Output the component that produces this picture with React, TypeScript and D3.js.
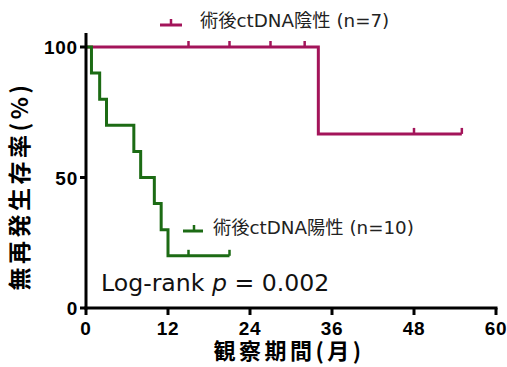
import React from "react";
import * as d3 from "d3";

const negTimes = [0, 34, 55];
const negSurv = [100, 66.7, 66.7];
const negCensor = [15, 21, 27, 32, 48, 55];

const posTimes = [0, 0.8, 2, 3, 7, 8, 10, 11, 12, 21];
const posSurv = [100, 90, 80, 70, 60, 50, 40, 30, 20, 20];
const posCensor = [15, 21];

const xTicks = [0, 12, 24, 36, 48, 60];
const yTicks = [0, 50, 100];

const negLabel = "術後ctDNA陰性 (n=7)";
const posLabel = "術後ctDNA陽性 (n=10)";
const xTitle = "観察期間(月)";
const yTitle = "無再発生存率(%)";

const MAGENTA = "#a3145a";
const GREEN = "#1c6b14";

function survAt(times: number[], surv: number[], t: number) {
  let v = surv[0];
  for (let i = 0; i < times.length; i++) if (times[i] <= t) v = surv[i];
  return v;
}

export default function App() {
  const W = 507, H = 367;
  const x = d3.scaleLinear().domain([0, 60]).range([86, 496]);
  const y = d3.scaleLinear().domain([0, 100]).range([308, 47]);
  const line = d3
    .line<[number, number]>()
    .x((d) => x(d[0]))
    .y((d) => y(d[1]))
    .curve(d3.curveStepAfter);

  const negPts = negTimes.map((t, i) => [t, negSurv[i]] as [number, number]);
  const posPts = posTimes.map((t, i) => [t, posSurv[i]] as [number, number]);

  const sw = 3;
  const cjk = "'Noto Sans CJK JP', sans-serif";
  const latin = "'DejaVu Sans', 'Noto Sans CJK JP', sans-serif";
  const tickFont = "'Liberation Sans', Arial, sans-serif";

  return (
    <svg
      width={W}
      height={H}
      style={{ position: "absolute", left: 0, top: 0, background: "#fff" }}
    >
      {/* series */}
      <path d={line(negPts) || ""} fill="none" stroke={MAGENTA} strokeWidth={sw} />
      {negCensor.map((c, i) => {
        const v = survAt(negTimes, negSurv, c);
        return (
          <line key={"nc" + i} x1={x(c)} x2={x(c)} y1={y(v)} y2={y(v) - 6} stroke={MAGENTA} strokeWidth={2.5} />
        );
      })}
      <path d={line(posPts) || ""} fill="none" stroke={GREEN} strokeWidth={sw} />
      {posCensor.map((c, i) => {
        const v = survAt(posTimes, posSurv, c);
        return (
          <line key={"pc" + i} x1={x(c)} x2={x(c)} y1={y(v)} y2={y(v) - 6} stroke={GREEN} strokeWidth={2.5} />
        );
      })}

      {/* axes */}
      <line x1={86} x2={86} y1={33} y2={309.5} stroke="#000" strokeWidth={3} />
      <line x1={84.5} x2={497.5} y1={308} y2={308} stroke="#000" strokeWidth={3} />
      {yTicks.map((t) => (
        <g key={"yt" + t}>
          <line x1={80} x2={86} y1={y(t)} y2={y(t)} stroke="#000" strokeWidth={3} />
          <text x={78} y={y(t) + 7} textAnchor="end" fontFamily={tickFont} fontWeight="bold" fontSize={19} letterSpacing={0.8} fill="#000">
            {t}
          </text>
        </g>
      ))}
      {xTicks.map((t) => (
        <g key={"xt" + t}>
          <line x1={x(t)} x2={x(t)} y1={308} y2={315} stroke="#000" strokeWidth={3} />
          <text x={x(t)} y={334.5} textAnchor="middle" fontFamily={tickFont} fontWeight="bold" fontSize={19} letterSpacing={0.8} fill="#000">
            {t}
          </text>
        </g>
      ))}

      {/* titles */}
      <text x={289} y={358.5} textAnchor="middle" fontFamily={cjk} fontWeight="bold" fontSize={22} letterSpacing={3.5} fill="#000">
        {xTitle}
      </text>
      <text
        transform="translate(28,186) rotate(-90)"
        textAnchor="middle"
        fontFamily={cjk}
        fontWeight="bold"
        fontSize={23}
        letterSpacing={3.5}
        fill="#000"
      >
        {yTitle}
      </text>

      {/* legend */}
      <line x1={160} x2={182} y1={25} y2={25} stroke={MAGENTA} strokeWidth={3} />
      <line x1={171} x2={171} y1={25} y2={19} stroke={MAGENTA} strokeWidth={2.5} />
      <text x={200} y={27} fontFamily={latin} fontSize={18.3} fill="#222">
        {negLabel}
      </text>
      <line x1={183} x2={203} y1={231} y2={231} stroke={GREEN} strokeWidth={3} />
      <line x1={194} x2={194} y1={231} y2={225} stroke={GREEN} strokeWidth={2.5} />
      <text x={213} y={234} fontFamily={latin} fontSize={18.3} fill="#222">
        {posLabel}
      </text>

      <text x={101} y={291} fontFamily={latin} fontSize={23.6} fill="#111">
        Log-rank <tspan fontStyle="italic">p</tspan> = 0.002
      </text>
    </svg>
  );
}
